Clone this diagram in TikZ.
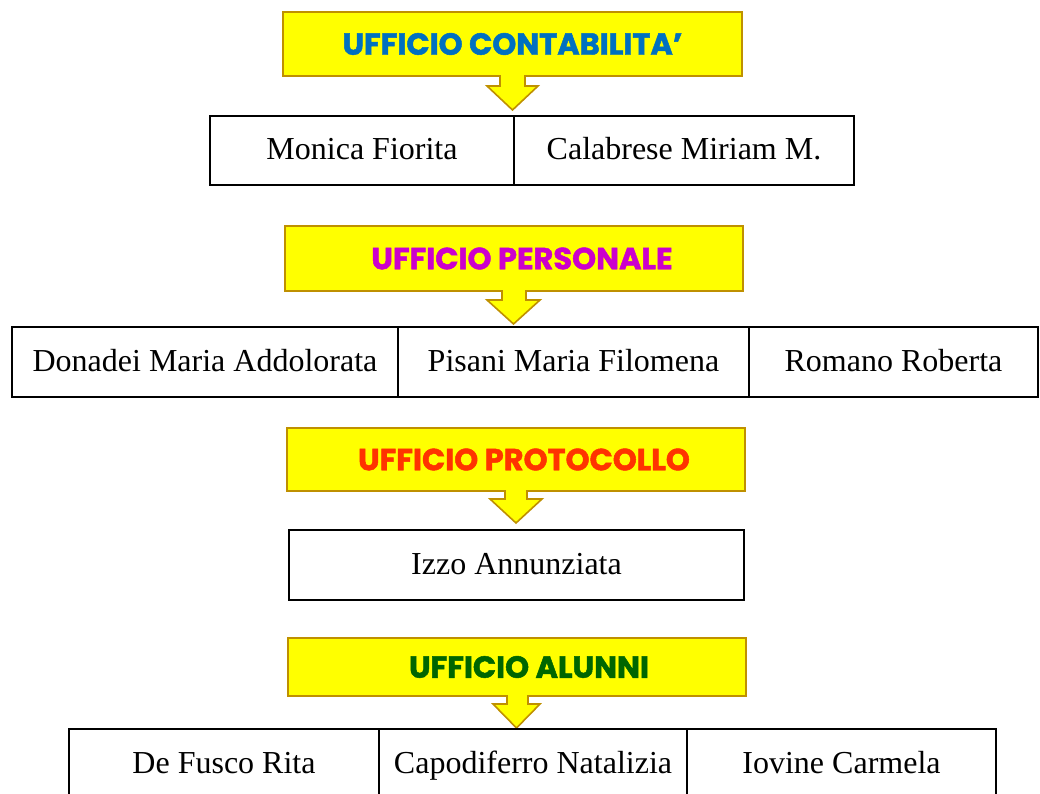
\documentclass[tikz,border=0pt]{standalone}
\usepackage{fontspec}
\setmainfont{Liberation Serif}
\newfontfamily\headfont{Poppins}[FakeBold=1.6]
\definecolor{calloutfill}{HTML}{FFFF00}
\definecolor{calloutdraw}{HTML}{BF9000}
\definecolor{hblue}{HTML}{0070C0}
\definecolor{hmagenta}{HTML}{CC00CC}
\definecolor{hred}{HTML}{FF3300}
\definecolor{hgreen}{HTML}{006600}
\tikzset{
  cell/.style={draw=black, line width=1.8pt, inner sep=0pt, text height=25pt, text depth=6pt,
    font=\fontsize{32}{37}\selectfont},
  calloutbox/.style={fill=calloutfill, draw=calloutdraw, line width=1.6pt, line join=miter},
  headtext/.style={inner sep=0pt, text height=21.5pt, text depth=0pt,
    font=\headfont\bfseries\fontsize{30.5}{35}\selectfont},
}
\newcommand\ufficiobox[9]{%
  % #1 x1, #2 x2, #3 y1, #4 y2, #5 stem left, #6 stem right, #7 wing y, #8 wing left, #9 wing right
  \draw[calloutbox] (#1,#3) -- (#2,#3) -- (#2,#4) -- (#6,#4) -- (#6,#7) -- (#9,#7)
    -- ({(#8+#9)/2},{#7+24}) -- (#8,#7) -- (#5,#7) -- (#5,#4) -- (#1,#4) -- cycle;
}
\begin{document}
\begin{tikzpicture}[x=1pt,y=-1pt]
\useasboundingbox (0,0) rectangle (1040,794);

% UFFICIO CONTABILITA'
\ufficiobox{283}{742}{12}{76}{500}{525}{86}{487}{538}
\node[headtext, text=hblue] (h1) at (512.5,44) {UFFICIO CONTABILITA’};
\node[cell, minimum width=304pt, minimum height=69pt] (m1) at (362,150.5) {Monica Fiorita};
\node[cell, minimum width=340pt, minimum height=69pt] (m2) at (684,150.5) {Calabrese Miriam M.};

% UFFICIO PERSONALE
\ufficiobox{285}{743}{226}{291}{502}{526}{300}{487}{540}
\node[headtext, text=hmagenta] (h2) at (522,258.5) {UFFICIO PERSONALE};
\node[cell, minimum width=386pt, minimum height=70pt] (p1) at (205,362) {Donadei Maria Addolorata};
\node[cell, minimum width=351pt, minimum height=70pt] (p2) at (573.5,362) {Pisani Maria Filomena};
\node[cell, minimum width=289pt, minimum height=70pt] (p3) at (893.5,362) {Romano Roberta};

% UFFICIO PROTOCOLLO
\ufficiobox{287}{745}{428}{491}{505}{527}{499}{490}{542}
\node[headtext, text=hred] (h3) at (524,459.5) {UFFICIO PROTOCOLLO};
\node[cell, minimum width=455pt, minimum height=70pt] (r1) at (516.5,565) {Izzo Annunziata};

% UFFICIO ALUNNI
\ufficiobox{288}{746}{638}{696}{507}{528}{704}{493}{540}
\node[headtext, text=hgreen] (h4) at (529,667) {UFFICIO ALUNNI};
\node[cell, minimum width=310pt, minimum height=70pt] (a1) at (224,764) {De Fusco Rita};
\node[cell, minimum width=308pt, minimum height=70pt] (a2) at (533,764) {Capodiferro Natalizia};
\node[cell, minimum width=309pt, minimum height=70pt] (a3) at (841.5,764) {Iovine Carmela};
\end{tikzpicture}
\end{document}
